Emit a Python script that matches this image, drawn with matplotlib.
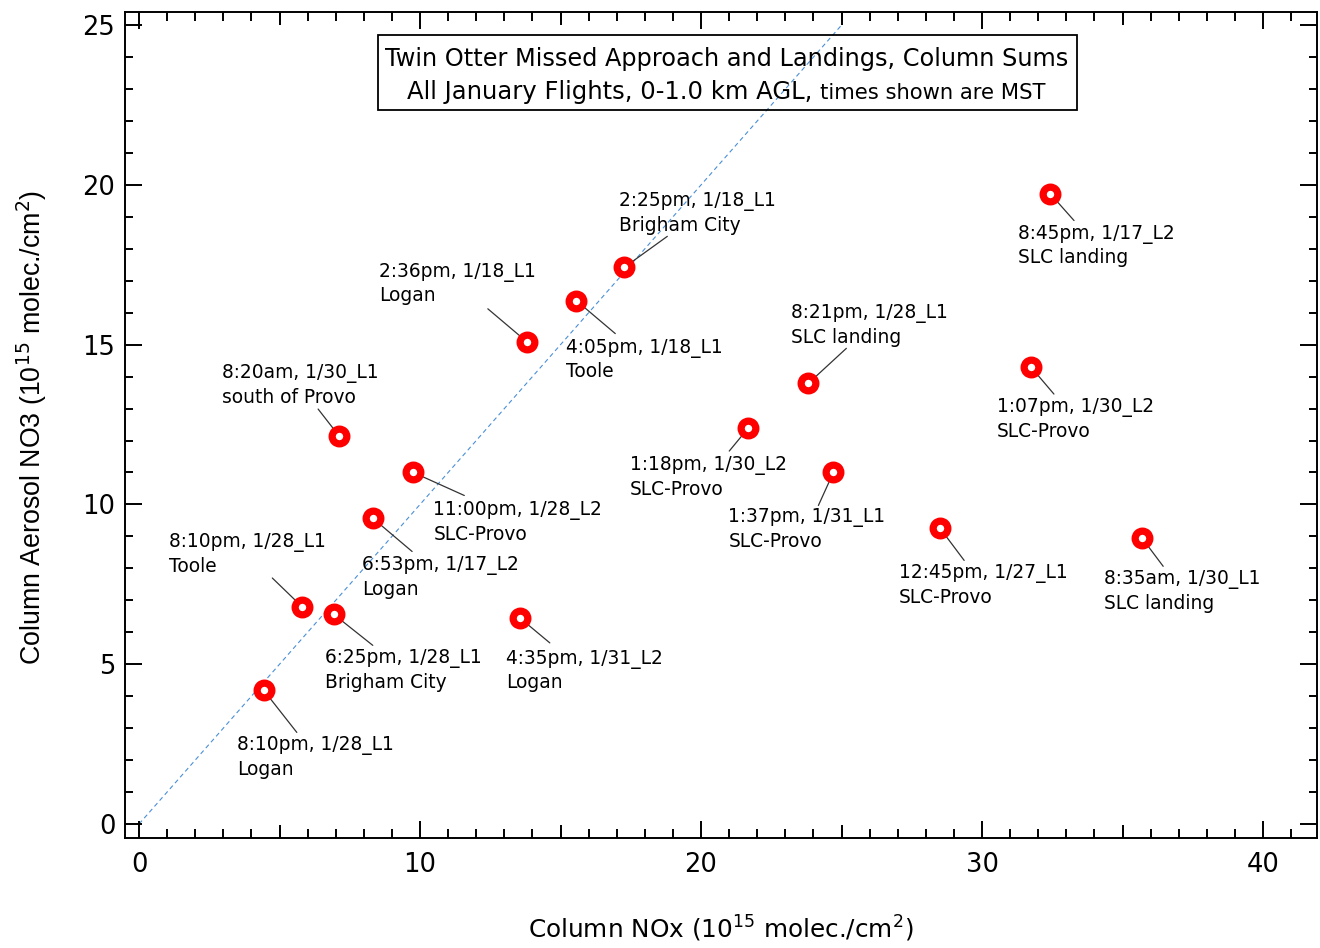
import numpy as np
import matplotlib.pyplot as plt
from matplotlib.patches import Rectangle
from matplotlib.ticker import MultipleLocator

plt.rcParams['font.family'] = ['DejaVu Sans']

# column sums 0-1.0 km AGL, units of 10^15 molec./cm^2
nox = [4.44, 5.81, 6.93, 7.12, 8.33, 9.76, 13.55, 13.80, 15.56, 17.27,
       21.68, 23.82, 24.71, 28.51, 31.74, 32.42, 35.70]
no3 = [4.18, 6.79, 6.56, 12.14, 9.56, 11.00, 6.45, 15.09, 16.38, 17.42,
       12.39, 13.79, 11.00, 9.25, 14.30, 19.73, 8.94]
times = ["8:10pm, 1/28_L1", "8:10pm, 1/28_L1", "6:25pm, 1/28_L1",
         "8:20am, 1/30_L1", "6:53pm, 1/17_L2", "11:00pm, 1/28_L2",
         "4:35pm, 1/31_L2", "2:36pm, 1/18_L1", "4:05pm, 1/18_L1",
         "2:25pm, 1/18_L1", "1:18pm, 1/30_L2", "8:21pm, 1/28_L1",
         "1:37pm, 1/31_L1", "12:45pm, 1/27_L1", "1:07pm, 1/30_L2",
         "8:45pm, 1/17_L2", "8:35am, 1/30_L1"]
places = ["Logan", "Toole", "Brigham City", "south of Provo", "Logan",
          "SLC-Provo", "Logan", "Logan", "Toole", "Brigham City",
          "SLC-Provo", "SLC landing", "SLC-Provo", "SLC-Provo",
          "SLC-Provo", "SLC landing", "SLC landing"]

# label placement, pixels from the point (right, down)
text_off = [(-27, 47), (-133, -73), (-9, 36), (-117, -71), (-11, 39),
            (20, 30), (-14, 33), (-148, -78), (-10, 39), (-5, -74),
            (-118, 29), (-17, -78), (-105, 37), (-41, 37), (-34, 32),
            (-32, 32), (-38, 33)]
lead_off = [(33, 42), (-30, -29), (39, 31), (-21, -27), (39, 33),
            (51, 23), (30, 25), (-39, -33), (39, 33), (43, -31),
            (-19, 23), (38, -35), (-15, 33), (24, 32), (23, 27),
            (24, 27), (21, 28)]

one_to_one = [0, 25]

fig = plt.figure(figsize=(13.2, 9.48), dpi=100)
ax = fig.add_axes([0.0947, 0.116, 0.903, 0.8713])

ax.plot(one_to_one, one_to_one, ls=(0, (4, 3)), color='#4a8fd8', lw=0.8, zorder=1)

for i in range(len(nox)):
    dx, dy = lead_off[i]
    ax.annotate('', xy=(nox[i], no3[i]), xytext=(dx, -dy), textcoords='offset pixels',
                arrowprops=dict(arrowstyle='-', color='#333333', lw=0.9,
                                shrinkA=0, shrinkB=0), zorder=2)
    tx, ty = text_off[i]
    ax.annotate(times[i] + "\n" + places[i], xy=(nox[i], no3[i]),
                xytext=(tx, -ty + 1), textcoords='offset pixels',
                ha='left', va='top', fontsize=13.4, linespacing=1.3, zorder=4)

ax.plot(nox, no3, 'o', ms=10.6, mew=5.2, mec='#ff0000', mfc='white', zorder=3)

ax.set_xlim(-0.5, 41.92)
ax.set_ylim(-0.44, 25.41)

ax.xaxis.set_major_locator(MultipleLocator(10))
ax.xaxis.set_minor_locator(MultipleLocator(1))
ax.yaxis.set_major_locator(MultipleLocator(5))
ax.yaxis.set_minor_locator(MultipleLocator(1))
ax.tick_params(which='both', direction='in', top=True, right=True, width=1.4)
ax.tick_params(which='major', length=12.2, labelsize=18.5)
ax.tick_params(axis='x', which='major', pad=10)
ax.tick_params(axis='y', which='major', pad=7)
ax.tick_params(axis='x', which='minor', length=6.5)
ax.tick_params(axis='y', which='minor', length=5.8)
for s in ax.spines.values():
    s.set_linewidth(1.4)

# half-decade ticks on the x axis, between major and minor length
for loc in ['bottom', 'top']:
    sec = ax.secondary_xaxis(loc)
    sec.set_xticks(np.arange(5, 40, 10))
    sec.tick_params(direction='in', length=9.4, width=1.4, labelbottom=False,
                    labeltop=False)
    for s in sec.spines.values():
        s.set_visible(False)

ax.set_xlabel(r'Column NOx (10$^{15}$ molec./cm$^{2}$)', fontsize=17.8)
ax.set_ylabel(r'Column Aerosol NO3 (10$^{15}$ molec./cm$^{2}$)', fontsize=19.3,
              family=['Liberation Sans', 'DejaVu Sans'])
ax.xaxis.set_label_coords(0.5, -0.092)
ax.yaxis.set_label_coords(-0.064, 0.497)

# title box
ax.add_patch(Rectangle((0.212, 0.881), 0.587, 0.091, transform=ax.transAxes,
                       fill=False, lw=1.3, ec='black', zorder=5))
ax.text(0.505, 0.9346, "Twin Otter Missed Approach and Landings, Column Sums",
        transform=ax.transAxes, ha='center', va='baseline', fontsize=17.3)
t1 = ax.text(0.2365, 0.8947, "All January Flights, 0-1.0 km AGL,",
             transform=ax.transAxes, ha='left', va='baseline', fontsize=17.5)
ax.annotate("times shown are MST", xy=(1, 0), xycoords=t1, xytext=(8, 1),
            textcoords='offset pixels', ha='left', va='bottom', fontsize=15.2)

fig.savefig('out.png', dpi=100)
